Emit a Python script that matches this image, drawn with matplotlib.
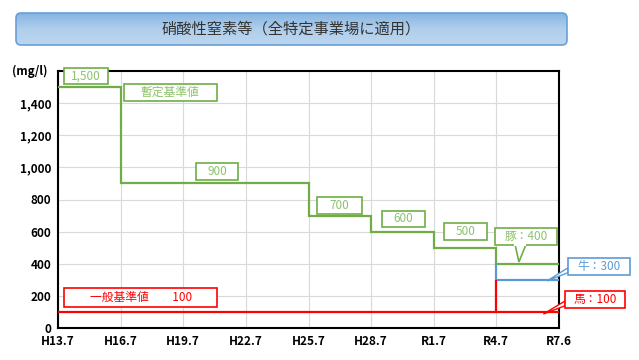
import matplotlib.pyplot as plt
import numpy as np
from matplotlib.patches import Rectangle, FancyBboxPatch, Polygon
from matplotlib.colors import LinearSegmentedColormap

plt.rcParams['font.family'] = ['Noto Sans CJK JP', 'DejaVu Sans']

# x axis periods (shown as evenly spaced categories)
periods = ['H13.7', 'H16.7', 'H19.7', 'H22.7', 'H25.7', 'H28.7', 'R1.7', 'R4.7', 'R7.6']
y_ticks = [0, 200, 400, 600, 800, 1000, 1200, 1400]

# provisional standard (green) steps
green_edges = ['H13.7', 'H16.7', 'H25.7', 'H28.7', 'R1.7', 'R4.7', 'R7.6']
green_vals = [1500, 900, 700, 600, 500, 400]

# cattle (blue) from R4.7
cow_x = ['R4.7', 'R4.7', 'R7.6']
cow_y = [400, 300, 300]

# general standard / horse (red)
red_x = ['H13.7', 'R7.6']
red_y = [100, 100]
horse_jump_x = ['R4.7', 'R4.7']
horse_jump_y = [290, 100]

green = '#70ad47'
green_txt = '#8cc36a'
blue = '#5b9bd5'
red = '#ff0000'

pos = {p: i for i, p in enumerate(periods)}

fig = plt.figure(figsize=(6.39, 3.6), dpi=100)
ax = fig.add_axes([58 / 639, 32 / 360, 501 / 639, 257 / 360])

ax.stairs(green_vals, [pos[e] for e in green_edges], baseline=None, color=green, lw=1.6, zorder=3)
ax.plot([pos[x] for x in cow_x], cow_y, color=blue, lw=1.6, zorder=3)
ax.plot([pos[x] for x in red_x], red_y, color=red, lw=1.6, zorder=3)
ax.plot([pos[x] for x in horse_jump_x], horse_jump_y, color=red, lw=1.6, zorder=3)

ax.set_xlim(0, len(periods) - 1)
ax.set_ylim(0, 1600)
ax.set_xticks(range(len(periods)))
ax.set_xticklabels(periods, fontsize=8.5, fontweight='bold')
ax.set_yticks(y_ticks)
ax.set_yticklabels([f'{v:,}' for v in y_ticks], fontsize=8.5, fontweight='bold')
ax.tick_params(length=0, pad=5)
ax.grid(True, color='#d9d9d9', lw=0.8)
ax.set_axisbelow(True)
for s in ax.spines.values():
    s.set_color('black')
    s.set_linewidth(1.5)
ax.text(-0.02, 1.0, '(mg/l)', transform=ax.transAxes, ha='right', va='center',
        fontsize=8.5, fontweight='bold')

# pixel -> data scale
sx = 8 / 501
sy = 1600 / 257


def label_box(cx, cy, wpx, hpx, text, color, tcolor, fs=8.5):
    w, h = wpx * sx, hpx * sy
    ax.add_patch(Rectangle((cx - w / 2, cy - h / 2), w, h, facecolor='white',
                           edgecolor=color, lw=1.2, clip_on=False, zorder=5))
    ax.text(cx, cy, text, ha='center', va='center', color=tcolor, fontsize=fs,
            zorder=6, clip_on=False)
    return w, h


label_box(0.45, 1569, 44, 16, '1,500', green, green_txt)
label_box(1.79, 1466, 93, 17, '暫定基準値', green, green_txt)
label_box(2.54, 974, 42, 17, '900', green, green_txt)
label_box(4.50, 763, 45, 17, '700', green, green_txt)
label_box(5.52, 679, 43, 16, '600', green, green_txt)
label_box(6.51, 601, 43, 17, '500', green, green_txt)
label_box(1.32, 190, 153, 19, '一般基準値　　100', red, red)

# callouts
w, h = label_box(7.48, 570, 62, 17, '豚：400', green, green_txt)
ax.add_patch(Polygon([[7.30, 570 - h / 2], [7.36, 411], [7.47, 570 - h / 2]],
                     closed=False, facecolor='white', edgecolor=green, lw=1.2,
                     clip_on=False, zorder=5))
ax.plot([7.305, 7.465], [570 - h / 2, 570 - h / 2], color='white', lw=1.5, zorder=5.5, clip_on=False)

w, h = label_box(8.64, 383, 62, 17, '牛：300', blue, blue)
ax.add_patch(Polygon([[8.64 - w / 2, 383 - h / 2 + 15], [7.81, 293], [8.64 - w / 2, 383 - h / 2 + 45]],
                     closed=True, facecolor='white', edgecolor=blue, lw=1.0,
                     clip_on=False, zorder=4))

w, h = label_box(8.58, 177, 60, 17, '馬：100', red, red)
ax.add_patch(Polygon([[8.58 - w / 2, 177 - h / 2 + 15], [7.75, 87], [8.58 - w / 2, 177 - h / 2 + 45]],
                     closed=True, facecolor='white', edgecolor=red, lw=1.0,
                     clip_on=False, zorder=4))

# title banner
tax = fig.add_axes([15 / 639, (360 - 46) / 360, 553 / 639, 34 / 360])
tax.set_xlim(0, 553)
tax.set_ylim(0, 34)
tax.axis('off')
banner = FancyBboxPatch((1, 1), 551, 32, boxstyle='round,pad=0,rounding_size=5',
                        facecolor='none', edgecolor='#6a9fd6', lw=1.2, zorder=3)
tax.add_patch(banner)
grad = np.linspace(0, 1, 50).reshape(-1, 1)
cmap = LinearSegmentedColormap.from_list('b', ['#bcd5ee', '#b0cfec', '#86b5e2'])
img = tax.imshow(grad, extent=(1, 552, 1, 33), aspect='auto', cmap=cmap, origin='lower', zorder=1)
img.set_clip_path(banner)
tax.text(276, 17, '硝酸性窒素等（全特定事業場に適用）', ha='center', va='center',
         fontsize=11, color='#333333', zorder=4)

fig.savefig('out.png', dpi=100)
